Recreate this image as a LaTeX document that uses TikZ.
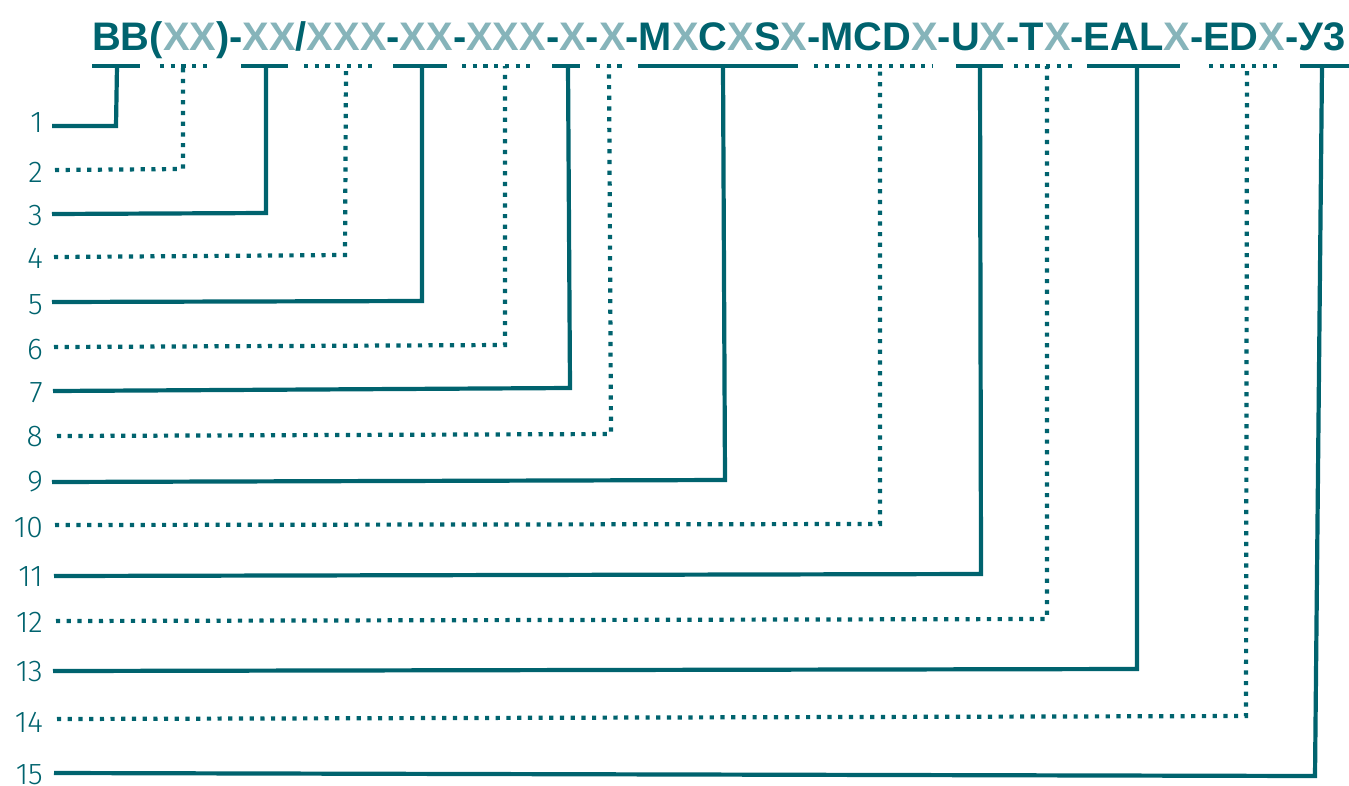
\documentclass[tikz,border=0pt]{standalone}
\usepackage{fontspec}
\setmainfont{Liberation Sans}
\newfontfamily\numfont{Fira Sans Light}
\definecolor{codedark}{HTML}{00636E}
\definecolor{codelight}{HTML}{86B4BA}
\newcommand{\lx}[1]{\textcolor{codelight}{#1}}
\tikzset{
  solidlead/.style={draw=codedark, line width=4.2pt, line join=miter, line cap=butt},
  dotlead/.style={draw=codedark, line width=4.2pt, line cap=butt, dash pattern=on 4.2pt off 6.5pt},
  numlabel/.style={anchor=east, inner sep=0pt, text=codedark, font=\numfont\fontsize{30}{30}\selectfont},
}
\begin{document}
\begin{tikzpicture}[x=1pt, y=-1pt]
\useasboundingbox (0,0) rectangle (1349,785);

% code string
\node[anchor=base west, inner sep=0pt, text=codedark] (code) at (92,50)
  {\resizebox{1253pt}{!}{\bfseries BB(\lx{XX})-\lx{XX}/\lx{XXX}-\lx{XX}-\lx{XXX}-\lx{X}-\lx{X}-M\lx{X}C\lx{X}S\lx{X}-MCD\lx{X}-U\lx{X}-T\lx{X}-EAL\lx{X}-ED\lx{X}-У3}};

% leaders: index / start x / start y / corner x / corner y / top x / bar left / bar right / style / label y
\foreach \i/\xs/\ys/\xc/\yc/\xt/\bl/\br/\st/\ly in {
  1/52/126/116/126/117/92/140/solidlead/123,
  2/55/170/183/169/183/160/208/dotlead/172,
  3/52/214/266/213/266/241/288/solidlead/216,
  4/54/257/345/255/346/304/373/dotlead/258,
  5/52/302/422/301/422/393/447/solidlead/305,
  6/54/347/505/345/505/462/530/dotlead/350,
  7/53/391/570/388/568/552/580/solidlead/393,
  8/57/436/611/434/609/596/622/dotlead/437,
  9/52/482/725/480/723/638/798/solidlead/482,
  10/55/525/880/524/880/814/933/dotlead/528,
  11/54/576/981/574/980/956/1003/solidlead/577,
  12/56/621/1047/619/1047/1014/1073/dotlead/622,
  13/53/671/1137/669/1137/1087/1180/solidlead/672,
  14/57/719/1246/716/1247/1209/1277/dotlead/722,
  15/54/773/1315/776/1322/1300/1349/solidlead/775} {
  \node[numlabel] (n\i) at (43,\ly) {\i};
  \coordinate (s\i) at (\xs,\ys);
  \coordinate (c\i) at (\xc,\yc);
  \coordinate (t\i) at (\xt,66);
  \coordinate (bl\i) at (\bl,66);
  \coordinate (br\i) at (\br,66);
  \draw[\st] (bl\i) -- (br\i);
  \draw[\st] (s\i) -- (c\i) -- (t\i);
}
\end{tikzpicture}
\end{document}
